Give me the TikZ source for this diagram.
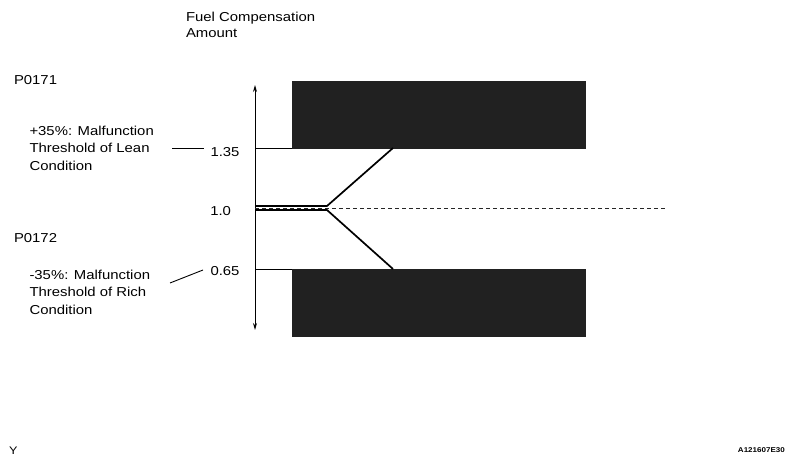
\documentclass[tikz,border=0pt]{standalone}
\usepackage{fontspec}
\setmainfont{Liberation Sans}[FakeStretch=1.15]
\usetikzlibrary{arrows.meta}
\begin{document}
\begin{tikzpicture}[x=1bp,y=-1bp,
  txt/.style={inner sep=0pt, outer sep=0pt, align=left, font=\fontsize{13}{17.6}\selectfont},
  ttl/.style={inner sep=0pt, outer sep=0pt, align=left, font=\fontsize{13}{16.5}\selectfont},
  val/.style={inner sep=0pt, outer sep=0pt, anchor=base east, font=\fontsize{13}{15}\selectfont},
  zone/.style={fill=black!87, draw=black!87},
  thinline/.style={line width=0.9bp},
  curve/.style={line width=1.7bp},
  axisline/.style={line width=0.9bp, {Stealth[length=7bp,width=4bp]}-{Stealth[length=7bp,width=4bp]}},
  refline/.style={line width=0.8bp, dash pattern=on 4bp off 3bp, black!85}]
\useasboundingbox (0,0) rectangle (791,464);

% texts
\node[ttl, anchor=north west] (title) at (186,12) {Fuel Compensation\\Amount};
\node[txt, anchor=north west] (p171) at (14,75.5) {P0171};
\node[txt, anchor=north west] (lean) at (29.5,126) {+35\%: Malfunction\\Threshold of Lean\\Condition};
\node[txt, anchor=north west] (p172) at (14,233) {P0172};
\node[txt, anchor=north west] (rich) at (29.5,270) {-35\%: Malfunction\\Threshold of Rich\\Condition};
\node[val] (v135) at (239.5,156.5) {1.35};
\node[val] (v10) at (231,216) {1.0};
\node[val] (v065) at (239.5,275.5) {0.65};
\node[inner sep=0pt, anchor=base west, font=\fontsize{11}{13}\selectfont] (ymark) at (9,454) {Y};
\node[inner sep=0pt, anchor=base east, font=\fontsize{7}{8}\selectfont\bfseries] (code) at (785,452.5) {A121607E30};

% coordinates
\coordinate (axtop) at (255,85);
\coordinate (axbot) at (255,330);
\coordinate (hi) at (255,148);
\coordinate (lo) at (255,269);
\coordinate (hibox) at (292,148);
\coordinate (lobox) at (292,269);
\coordinate (bandu0) at (255,206);
\coordinate (bandu1) at (327,206);
\coordinate (bandl0) at (255,210);
\coordinate (bandl1) at (327,210);
\coordinate (hicorner) at (393,148);
\coordinate (locorner) at (393,269);
\coordinate (mid0) at (255,208);
\coordinate (mid1) at (666,208);
\coordinate (leadA0) at (172,148);
\coordinate (leadA1) at (204,148);
\coordinate (leadB0) at (170,283);
\coordinate (leadB1) at (203,270);

% zones
\fill[zone] (292,81) rectangle (585,148);
\fill[zone] (292,269) rectangle (585,336);

% axis
\draw[axisline] (axbot) -- (axtop);
\draw[thinline] (hi) -- (hibox);
\draw[thinline] (lo) -- (lobox);

% reference
\draw[refline] (mid0) -- (mid1);

% compensation band
\draw[curve] (bandu0) -- (bandu1) -- (hicorner);
\draw[curve] (bandl0) -- (bandl1) -- (locorner);

% leaders
\draw[thinline] (leadA0) -- (leadA1);
\draw[thinline] (leadB0) -- (leadB1);
\end{tikzpicture}
\end{document}
